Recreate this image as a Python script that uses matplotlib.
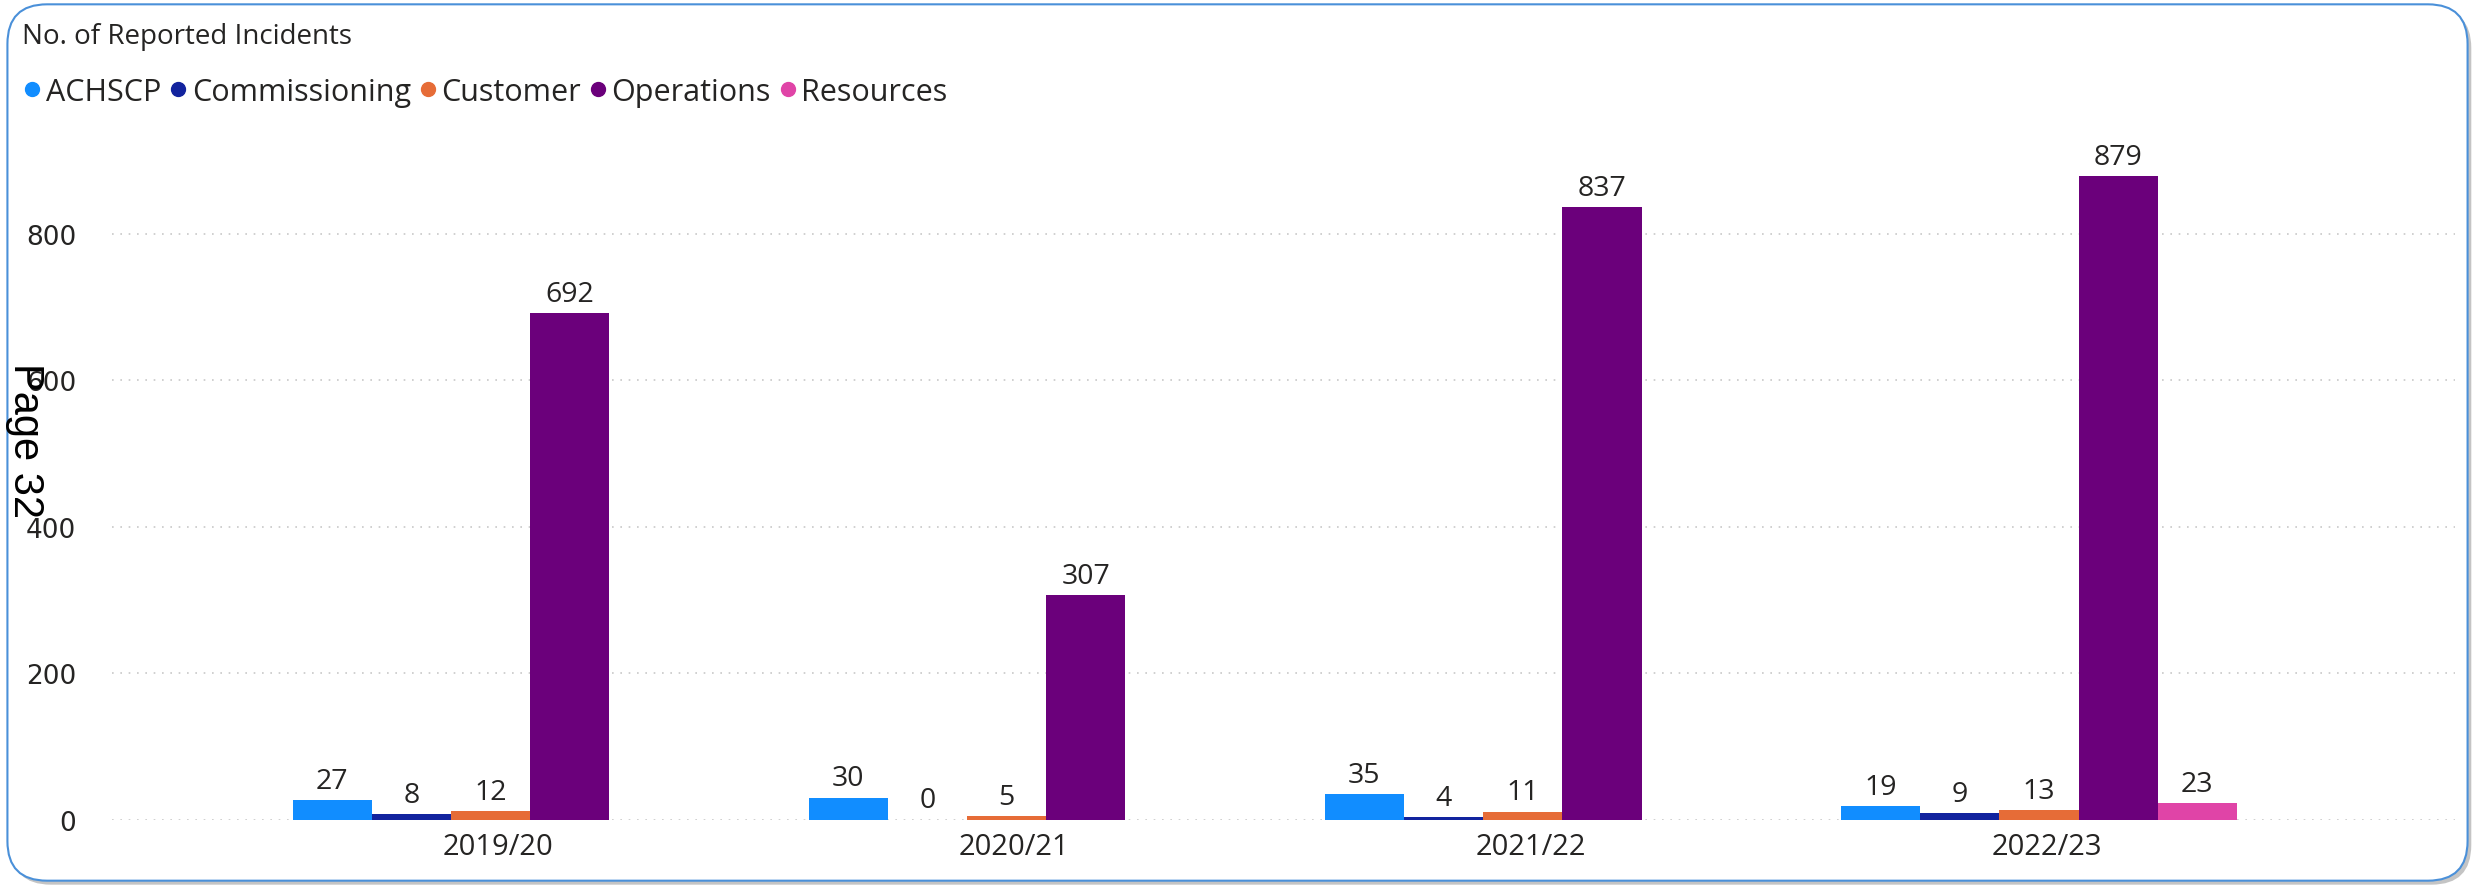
import numpy as np
import matplotlib
matplotlib.use("Agg")
import matplotlib.pyplot as plt
from matplotlib.patches import FancyBboxPatch
from matplotlib.lines import Line2D

years = ["2019/20", "2020/21", "2021/22", "2022/23"]
series = ["ACHSCP", "Commissioning", "Customer", "Operations", "Resources"]
achscp = [27, 30, 35, 19]
commissioning = [8, 0, 4, 9]
customer = [12, 5, 11, 13]
operations = [692, 307, 837, 879]
resources = [np.nan, np.nan, np.nan, 23]
colors = ["#118DFF", "#12239E", "#E66C37", "#6B007B", "#E044A7"]
yticks = [0, 200, 400, 600, 800]

values = [achscp, commissioning, customer, operations, resources]

plt.rcParams["font.family"] = ["Open Sans", "DejaVu Sans"]
TXT = "#252423"

fig = plt.figure(figsize=(24.75, 8.87), dpi=100)

# card shadow + rounded border
aspect = 2475 / 887
shadow = FancyBboxPatch((0.0045, 0.0015), 0.994, 0.988,
                        boxstyle="round,pad=0,rounding_size=0.016",
                        transform=fig.transFigure, facecolor="#C4C4C4",
                        edgecolor="none", mutation_aspect=aspect, zorder=0)
card = FancyBboxPatch((0.003, 0.006), 0.994, 0.988,
                      boxstyle="round,pad=0,rounding_size=0.016",
                      transform=fig.transFigure, facecolor="white",
                      edgecolor="#4A90D9", linewidth=1.5,
                      mutation_aspect=aspect, zorder=1)
fig.patches.extend([shadow, card])

ax = fig.add_axes([0.0453, 0.0749, 0.9466, 0.7922])
ax.set_facecolor("none")
ax.set_zorder(2)

x = np.arange(len(years))
width = 0.1534
for i, (name, vals, col) in enumerate(zip(series, values, colors)):
    pos = x + (i - 2) * width
    ax.bar(pos, vals, width=width, color=col, label=name)
    for xp, v in zip(pos, vals):
        if np.isnan(v):
            continue
        ax.text(xp, v + 7, f"{int(v)}", ha="center", va="bottom",
                fontsize=20.5, color=TXT)

ax.set_xlim(-0.733, 3.806)
ax.set_ylim(0, 960)
ax.set_yticks(yticks)
ax.set_xticks(x + 0.015)
ax.set_xticklabels(years, fontsize=21)
ax.tick_params(axis="both", length=0, colors=TXT)
ax.tick_params(axis="x", pad=9)
ax.tick_params(axis="y", pad=26)
for lbl in ax.get_yticklabels():
    lbl.set_fontfamily("DejaVu Sans")
    lbl.set_fontsize(19)
ax.yaxis.grid(True, color="#C8C8C8", linestyle=(0, (1, 4)), linewidth=1.2)
ax.set_axisbelow(True)
for s in ax.spines.values():
    s.set_visible(False)

fig.text(0.0089, 0.958, "No. of Reported Incidents", fontsize=20,
         color=TXT, va="center", ha="left", zorder=3)

handles = [Line2D([], [], marker="o", linestyle="none", markersize=10,
                  markerfacecolor=c, markeredgecolor=c) for c in colors]
leg = fig.legend(handles, series, loc="center left", bbox_to_anchor=(0.008, 0.895),
                 ncol=5, frameon=False, fontsize=22, handletextpad=0.05,
                 columnspacing=0.15, handlelength=0.8, borderpad=0,
                 borderaxespad=0, labelcolor=TXT)
leg.set_zorder(3)

fig.text(0.0101, 0.503, "Page 32", rotation=270, fontsize=30,
         family="Liberation Sans", color="black", ha="center", va="center",
         zorder=3)

fig.savefig("out.png", dpi=100, facecolor="white")
